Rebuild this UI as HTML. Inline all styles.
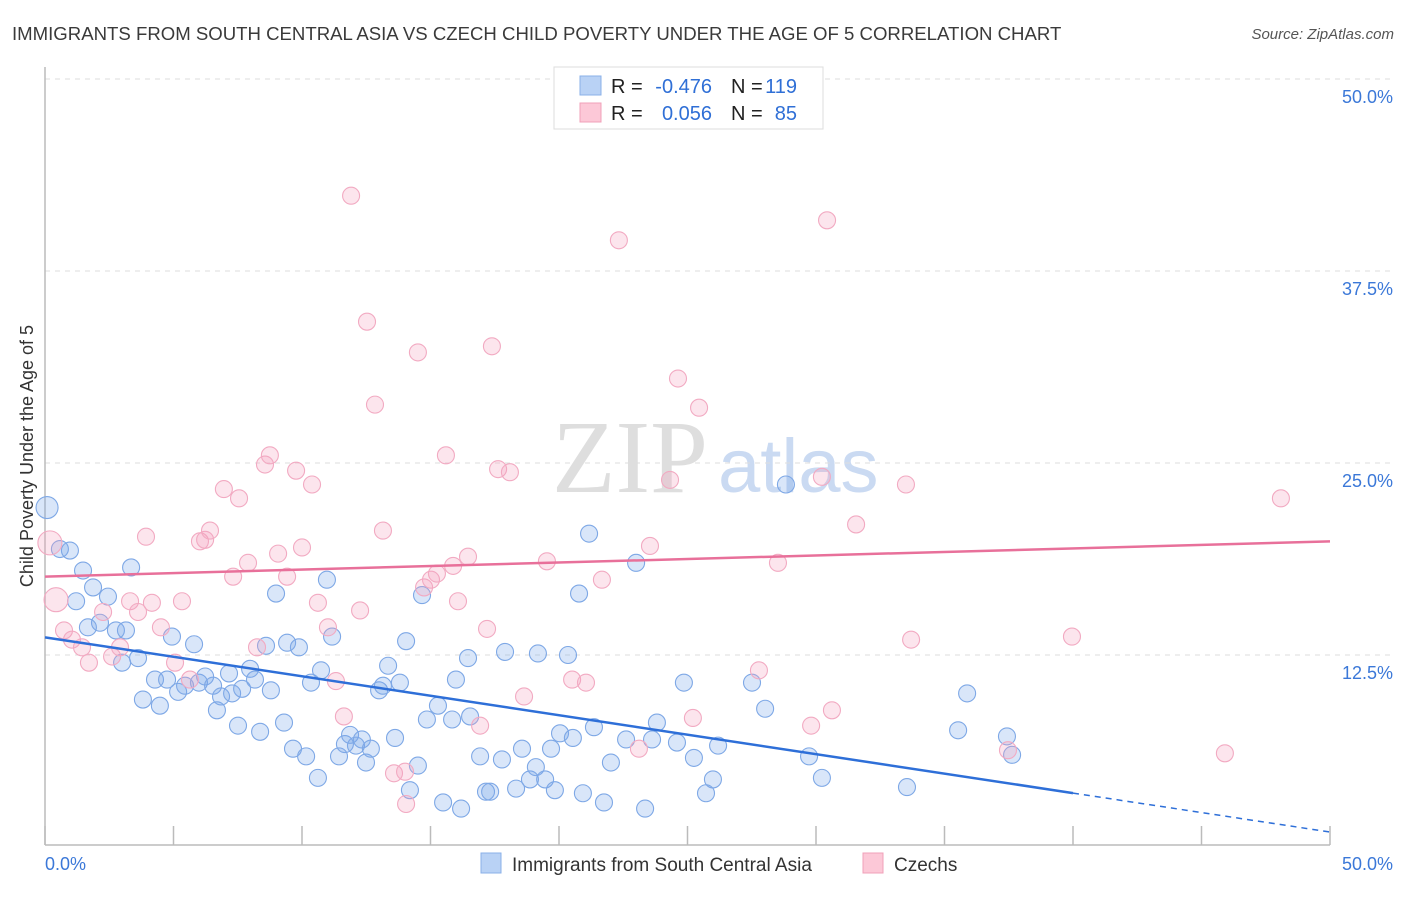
<!DOCTYPE html>
<html><head><meta charset="utf-8"><style>
body{margin:0;background:#fff;font-family:"Liberation Sans",sans-serif;}
svg text{font-family:"Liberation Sans",sans-serif;}
</style></head><body>
<svg id="chart" width="1406" height="892" xmlns="http://www.w3.org/2000/svg">
<text x="12" y="40" font-size="18.6" fill="#3a3a3a">IMMIGRANTS FROM SOUTH CENTRAL ASIA VS CZECH CHILD POVERTY UNDER THE AGE OF 5 CORRELATION CHART</text>
<text x="1394" y="39" font-size="15" fill="#555" font-style="italic" text-anchor="end">Source: ZipAtlas.com</text>
<text x="552" y="492" font-size="104" fill="#dedede" style="font-family:'Liberation Serif',serif">ZIP</text>
<text x="718" y="492" font-size="76" fill="#cadaf2">atlas</text>
<text transform="translate(33,456) rotate(-90)" font-size="18" fill="#333" text-anchor="middle">Child Poverty Under the Age of 5</text>
<g id="grid"></g><g id="axes"></g><g id="points"></g><g id="trends"></g>
<g>
<rect x="554" y="67" width="269" height="62" fill="#fff" stroke="#ddd"/>
<rect x="580" y="76" width="21" height="19" fill="#b9d2f5" stroke="#8ab0e8"/>
<rect x="580" y="103" width="21" height="19" fill="#fcc8d7" stroke="#f0a0b8"/>
<text x="611" y="93" font-size="20" fill="#222">R =</text>
<text x="712" y="93" font-size="20" fill="#2f6fd6" text-anchor="end">-0.476</text>
<text x="731" y="93" font-size="20" fill="#222">N =</text>
<text x="797" y="93" font-size="20" fill="#2f6fd6" text-anchor="end">119</text>
<text x="611" y="120" font-size="20" fill="#222">R =</text>
<text x="712" y="120" font-size="20" fill="#2f6fd6" text-anchor="end">0.056</text>
<text x="731" y="120" font-size="20" fill="#222">N =</text>
<text x="797" y="120" font-size="20" fill="#2f6fd6" text-anchor="end">85</text>
</g>
<g>
<rect x="481" y="853" width="20" height="20" fill="#b9d2f5" stroke="#8ab0e8"/>
<text x="512" y="871" font-size="19" fill="#333">Immigrants from South Central Asia</text>
<rect x="863" y="853" width="20" height="20" fill="#fcc8d7" stroke="#f0a0b8"/>
<text x="894" y="871" font-size="19" fill="#333">Czechs</text>
</g>
</svg>
<script>
const blueX=[0.08,0.58,0.97,1.48,1.21,1.87,2.45,3.35,2.14,1.67,2.76,3.15,3.0,3.62,3.81,4.47,4.28,4.94,4.75,5.18,5.45,5.8,5.99,6.23,6.54,6.69,6.85,7.16,7.28,7.51,7.67,7.98,8.17,8.37,8.6,8.79,8.99,9.3,9.42,9.65,9.88,10.16,10.35,10.62,10.74,10.97,11.17,11.44,11.67,11.87,12.1,12.33,12.49,12.68,13.0,13.15,13.35,13.62,13.81,14.05,14.2,14.51,14.67,14.86,15.29,15.49,15.84,15.99,16.19,16.46,16.54,16.93,17.16,17.32,17.78,17.9,18.33,18.56,18.87,19.18,19.1,19.46,19.69,19.84,20.04,20.35,20.54,20.78,20.93,21.17,21.36,21.75,22.02,22.61,23.0,23.35,23.62,23.81,24.59,24.86,25.25,25.72,25.99,26.19,27.51,28.02,28.83,29.73,30.23,33.54,35.53,35.88,37.43,37.63];
const blueY=[22.1,19.4,19.3,18.0,16.0,16.9,16.3,18.2,14.6,14.3,14.1,14.1,12.0,12.3,9.6,9.2,10.9,13.7,10.9,10.1,10.5,13.2,10.7,11.1,10.5,8.9,9.8,11.3,10.0,7.9,10.3,11.6,10.9,7.5,13.1,10.2,16.5,8.1,13.3,6.4,13.0,5.9,10.7,4.5,11.5,17.4,13.7,5.9,6.7,7.3,6.6,7.0,5.5,6.4,10.2,10.5,11.8,7.1,10.7,13.4,3.7,5.3,16.4,8.3,9.2,2.9,8.3,10.9,2.5,12.3,8.5,5.9,3.6,3.6,5.7,12.7,3.8,6.4,4.4,12.6,5.2,4.4,6.4,3.7,7.4,12.5,7.1,16.5,3.5,20.4,7.8,2.9,5.5,7.0,18.5,2.5,7.0,8.1,6.8,10.7,5.8,3.5,4.4,6.6,10.7,9.0,23.6,5.9,4.5,3.9,7.6,10.0,7.2,6.0];
const pinkX=[0.19,0.43,0.74,1.05,1.44,1.71,2.26,2.61,2.92,3.31,3.62,3.93,4.16,4.51,5.06,5.33,5.64,6.03,6.23,6.42,6.96,7.32,7.55,7.9,8.25,8.56,8.75,9.07,9.42,9.77,10.0,10.39,10.62,11.01,11.32,11.63,11.91,12.26,12.53,12.84,13.15,13.58,14.01,14.05,14.51,14.75,15.02,15.25,15.6,15.88,16.07,16.46,16.93,17.2,17.39,17.63,18.09,18.64,19.53,20.16,20.51,21.05,21.67,22.33,23.11,23.54,24.32,24.63,25.21,25.45,27.78,28.52,29.81,30.23,30.43,30.62,31.56,33.5,33.7,37.47,39.96,45.91,48.09];
const pinkY=[19.8,16.1,14.1,13.5,13.0,12.0,15.3,12.4,13.0,16.0,15.3,20.2,15.9,14.3,12.0,16.0,10.9,19.9,20.0,20.6,23.3,17.6,22.7,18.5,13.0,24.9,25.5,19.1,17.6,24.5,19.5,23.6,15.9,14.3,10.8,8.5,42.4,15.4,34.2,28.8,20.6,4.8,4.9,2.8,32.2,16.9,17.4,17.8,25.5,18.3,16.0,18.9,7.9,14.2,32.6,24.6,24.4,9.8,18.6,49.9,10.9,10.7,17.4,39.5,6.4,19.6,23.9,30.5,8.4,28.6,11.5,18.5,7.9,24.1,40.8,8.9,21.0,23.6,13.5,6.3,13.7,6.1,22.7];
const yTicks=[12.5,25.0,37.5,50.0];
const xTickVals=[0,5,10,15,20,25,30,35,40,45,50];
const blueTrend=[13.65,-0.2535]; // intercept, slope
const pinkTrend=[17.6,0.046];
const NS='http://www.w3.org/2000/svg';
const X0=45,X1=1330,Y0=847,Y1=79;
const sx=v=>X0+(X1-X0)*v/50;
const sy=v=>Y0-(Y0-Y1)*v/50;
function mk(t,a,p){const e=document.createElementNS(NS,t);for(const k in a)e.setAttribute(k,a[k]);p.appendChild(e);return e;}
const grid=document.getElementById('grid'),axes=document.getElementById('axes'),pts=document.getElementById('points'),tr=document.getElementById('trends');
yTicks.forEach(v=>{
 const l=mk('line',{x1:X0,x2:1394,y1:sy(v),y2:sy(v),stroke:'#ddd','stroke-dasharray':'5,5'},grid);
 
 
 const t=mk('text',{x:1393,y:sy(v)+24,'font-size':18,fill:'#3b78d8','text-anchor':'end'},axes);
 t.textContent=v.toFixed(1)+'%';
 
 
});
const ya=mk('line',{x1:X0,x2:X0,y1:67,y2:845,stroke:'#bbb','stroke-width':1.5},axes);


const xa=mk('line',{x1:X0,x2:X1,y1:845,y2:845,stroke:'#bbb','stroke-width':1.5},axes);


xTickVals.forEach(v=>{
 const l=mk('line',{x1:sx(v),x2:sx(v),y1:826,y2:845,stroke:'#bbb','stroke-width':1.5},axes);
 
 
});
[[0,'start',45],[50,'end',1393]].forEach(([v,a,x])=>{
 const t=mk('text',{x:x,y:870,'font-size':18,fill:'#3b78d8','text-anchor':a},axes);
 t.textContent=v.toFixed(1)+'%';
 
 
});
blueX.forEach((v,i)=>{
 const c=mk('circle',{cx:sx(v),cy:sy(blueY[i]),r:i==0?11:8.5,fill:'rgba(120,165,235,0.28)',stroke:'#7ea8e6','stroke-width':1.1},pts);
 
 
});
pinkX.forEach((v,i)=>{
 const c=mk('circle',{cx:sx(v),cy:sy(pinkY[i]),r:i<2?12:8.5,fill:'rgba(245,160,190,0.28)',stroke:'#f2aac2','stroke-width':1.1},pts);
 
 
});
const bl=mk('line',{x1:sx(0),y1:sy(blueTrend[0]),x2:sx(40),y2:sy(blueTrend[0]+blueTrend[1]*40),stroke:'#2e6fd8','stroke-width':2.5},tr);


const bd=mk('line',{x1:sx(40),y1:sy(blueTrend[0]+blueTrend[1]*40),x2:sx(50),y2:sy(blueTrend[0]+blueTrend[1]*50),stroke:'#2e6fd8','stroke-width':1.5,'stroke-dasharray':'6,5'},tr);


const pl=mk('line',{x1:sx(0),y1:sy(pinkTrend[0]),x2:sx(50),y2:sy(pinkTrend[0]+pinkTrend[1]*50),stroke:'#e8709a','stroke-width':2.5},tr);


</script>
</body></html>
